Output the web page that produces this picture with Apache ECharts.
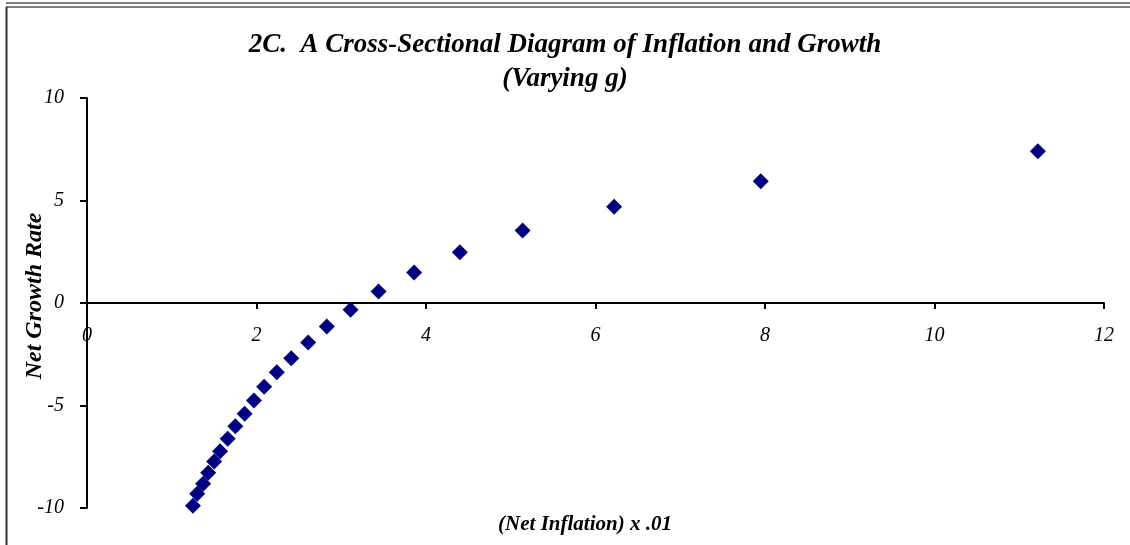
<!DOCTYPE html>
<html><head><meta charset="utf-8">
<script src="https://cdn.jsdelivr.net/npm/echarts@6/dist/echarts.min.js"></script>
<style>html,body{margin:0;padding:0;background:#fff}#c{width:1130px;height:545px}</style>
</head><body><div id="c"></div>
<script>
// Net inflation (x .01) and net growth rate
const inflation = [11.22, 7.95, 6.22, 5.14, 4.40, 3.86, 3.44, 3.11, 2.83, 2.61, 2.41, 2.24, 2.09, 1.97, 1.86, 1.75, 1.66, 1.57, 1.50, 1.43, 1.37, 1.30, 1.25];
const growth    = [7.40, 5.94, 4.69, 3.54, 2.48, 1.49, 0.56, -0.33, -1.15, -1.93, -2.69, -3.38, -4.09, -4.76, -5.40, -6.01, -6.62, -7.23, -7.73, -8.28, -8.82, -9.31, -9.89];
const titleText = '2C.  A Cross-Sectional Diagram of Inflation and Growth\n(Varying g)';
const xName = '(Net Inflation) x .01';
const yName = 'Net Growth Rate';
const xRange = [0, 12, 2];
const yRange = [-10, 10, 5];

const FONT = '"Liberation Serif","Times New Roman",serif';
const points = inflation.map((v, i) => [v, growth[i]]);

const W = 1130, H = 545;
const grid = {left: 87, right: 26, top: 98, bottom: 37};
const gridH = H - grid.top - grid.bottom;
// place the x axis where y = 0 (axis crosses at zero, labels follow it)
const xOffset = -((0 - yRange[0]) / (yRange[1] - yRange[0])) * gridH;

const chart = echarts.init(document.getElementById('c'), null, {renderer: 'canvas'});
chart.setOption({
  animation: false,
  backgroundColor: '#fff',
  title: {
    text: titleText,
    left: 'center',
    top: 23,
    textStyle: {fontFamily: FONT, fontStyle: 'italic', fontWeight: 'bold', fontSize: 27, lineHeight: 34, color: '#000'}
  },
  grid: Object.assign({containLabel: false, outerBoundsMode: 'none'}, grid),
  xAxis: {
    type: 'value', min: xRange[0], max: xRange[1], interval: xRange[2],
    position: 'bottom', offset: xOffset,
    axisLine: {onZero: false, lineStyle: {color: '#000', width: 2}},
    axisTick: {show: true, length: 6, lineStyle: {color: '#000', width: 2}},
    axisLabel: {margin: 23, fontFamily: FONT, fontStyle: 'italic', fontSize: 20, color: '#000'},
    splitLine: {show: false}
  },
  yAxis: {
    type: 'value', min: yRange[0], max: yRange[1], interval: yRange[2],
    axisLine: {onZero: false, lineStyle: {color: '#000', width: 2}},
    axisTick: {show: true, length: 7, lineStyle: {color: '#000', width: 2}},
    axisLabel: {margin: 23, fontFamily: FONT, fontStyle: 'italic', fontSize: 20, color: '#000'},
    splitLine: {show: false}
  },
  graphic: [
    {type: 'line', shape: {x1: 6, y1: 3, x2: 1130, y2: 3}, style: {stroke: '#000', lineWidth: 1}},
    {type: 'line', shape: {x1: 6, y1: 7, x2: 1130, y2: 7}, style: {stroke: '#000', lineWidth: 1}},
    {type: 'line', shape: {x1: 6.5, y1: 7, x2: 6.5, y2: 545}, style: {stroke: '#333', lineWidth: 2}},
    {type: 'text', x: 585, y: 525, style: {text: xName, fontFamily: FONT, fontStyle: 'italic', fontWeight: 'bold', fontSize: 21, fill: '#000', align: 'center', verticalAlign: 'middle'}},
    {type: 'text', x: 35, y: 296, rotation: Math.PI / 2, style: {text: yName, fontFamily: FONT, fontStyle: 'italic', fontWeight: 'bold', fontSize: 24, fill: '#000', align: 'center', verticalAlign: 'middle'}}
  ],
  series: [{
    type: 'scatter',
    data: points,
    symbol: 'diamond',
    symbolSize: 16,
    itemStyle: {color: '#000080', opacity: 1}
  }]
});
</script></body></html>
